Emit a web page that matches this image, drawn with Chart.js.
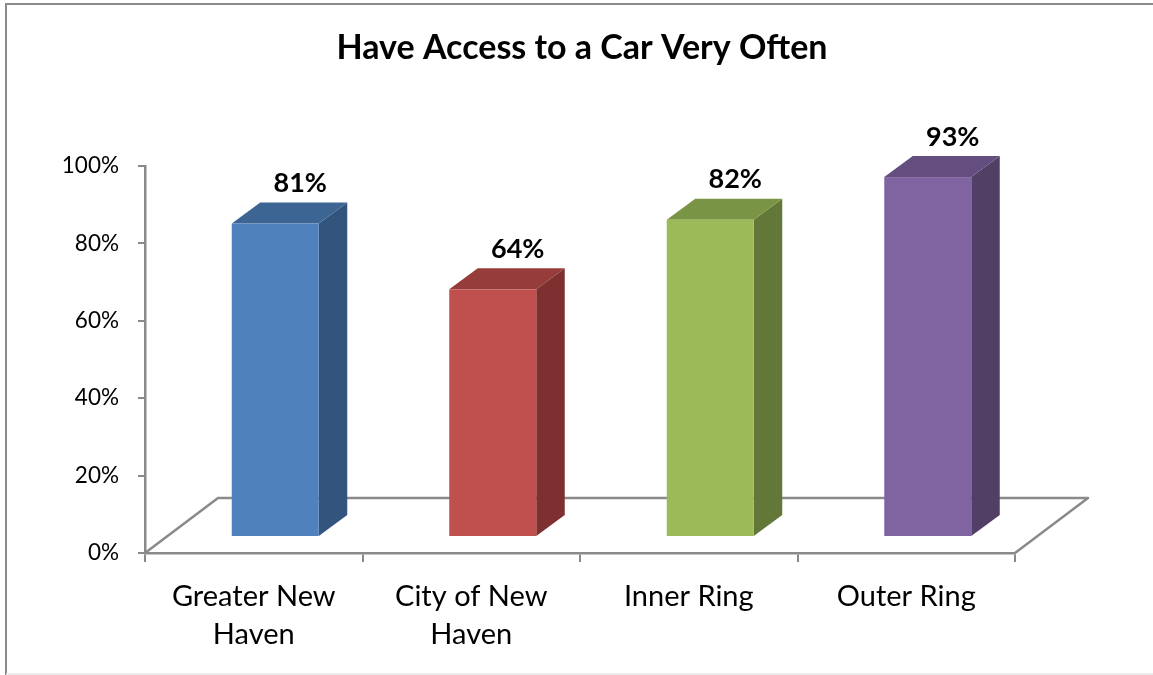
<!DOCTYPE html>
<html>
<head>
<meta charset="utf-8">
<script src="https://cdn.jsdelivr.net/npm/chart.js@4"></script>
<style>
  html, body { margin: 0; padding: 0; background: #ffffff; }
  #wrap { position: relative; width: 1153px; height: 675px; }
  canvas { display: block; }
</style>
</head>
<body>
<div id="wrap"><canvas id="chart" width="1153" height="675"></canvas></div>
<script>
// Share of respondents who have access to a car very often, by region
const categories = [["Greater New", "Haven"], ["City of New", "Haven"], "Inner Ring", "Outer Ring"];
const values = [81, 64, 82, 93];
const tickLabels = ["0%", "20%", "40%", "60%", "80%", "100%"];

// Face colours for each column: front, top, side
const frontColors = ["#4F81BD", "#C0504D", "#9BBB59", "#8064A2"];
const topColors   = ["#3D6594", "#963D3B", "#7A9446", "#644E80"];
const sideColors  = ["#33557D", "#7D302F", "#637838", "#513F66"];

const FONT = "Lato, 'Open Sans', sans-serif";
const AXIS_GRAY = "#8a8a8a";

// Oblique projection of the floor and the columns
const FLOOR_DX = 73, FLOOR_DY = 55;      // full depth of the floor
const FRONT_DX = 21.5, FRONT_DY = 16;    // column front plane offset
const BAR_DX = 28.5, BAR_DY = 21;        // column depth

const frame = {
  id: "frame",
  beforeDraw(chart) {
    const ctx = chart.ctx;
    ctx.save();
    ctx.fillStyle = "#ffffff";
    ctx.fillRect(0, 0, chart.width, chart.height);
    ctx.strokeStyle = AXIS_GRAY;
    ctx.lineWidth = 2;
    ctx.beginPath();
    ctx.moveTo(6, chart.height);
    ctx.lineTo(6, 4);
    ctx.lineTo(chart.width, 4);
    ctx.stroke();
    ctx.strokeStyle = "#e6e6e6";
    ctx.lineWidth = 1.5;
    ctx.beginPath();
    ctx.moveTo(6, 674);
    ctx.lineTo(chart.width, 674);
    ctx.stroke();
    ctx.restore();
  }
};

const floor3d = {
  id: "floor3d",
  beforeDatasetsDraw(chart) {
    const { ctx } = chart;
    const a = chart.scales.x;
    const bottom = chart.scales.y.bottom;
    ctx.save();
    ctx.strokeStyle = AXIS_GRAY;
    ctx.lineWidth = 2.5;
    ctx.lineJoin = "round";
    ctx.beginPath();
    ctx.moveTo(a.left, bottom);
    ctx.lineTo(a.left + FLOOR_DX, bottom - FLOOR_DY);
    ctx.lineTo(a.right + FLOOR_DX, bottom - FLOOR_DY);
    ctx.lineTo(a.right, bottom);
    ctx.stroke();
    ctx.restore();
  }
};

const columns3d = {
  id: "columns3d",
  afterDatasetsDraw(chart) {
    const ctx = chart.ctx;
    const meta = chart.getDatasetMeta(0);
    ctx.save();
    meta.data.forEach((bar, i) => {
      const p = bar.getProps(["x", "y", "base", "width"], true);
      const left = p.x - p.width / 2 + FRONT_DX;
      const right = p.x + p.width / 2 + FRONT_DX;
      const top = p.y - FRONT_DY;
      const bottom = p.base - FRONT_DY;

      // side face
      ctx.fillStyle = sideColors[i];
      ctx.beginPath();
      ctx.moveTo(right, top);
      ctx.lineTo(right + BAR_DX, top - BAR_DY);
      ctx.lineTo(right + BAR_DX, bottom - BAR_DY);
      ctx.lineTo(right, bottom);
      ctx.closePath();
      ctx.fill();

      // top face
      ctx.fillStyle = topColors[i];
      ctx.beginPath();
      ctx.moveTo(left, top);
      ctx.lineTo(left + BAR_DX, top - BAR_DY);
      ctx.lineTo(right + BAR_DX, top - BAR_DY);
      ctx.lineTo(right, top);
      ctx.closePath();
      ctx.fill();

      // front face
      ctx.fillStyle = frontColors[i];
      ctx.fillRect(left, top, right - left, bottom - top);

      // value label above the column
      ctx.fillStyle = "#000000";
      ctx.font = "bold 27px " + FONT;
      ctx.textAlign = "center";
      ctx.textBaseline = "middle";
      ctx.fillText(values[i] + "%", (left + right) / 2 + 25, top - BAR_DY - 19);
    });
    ctx.restore();
  }
};

new Chart(document.getElementById("chart"), {
  type: "bar",
  data: {
    labels: categories,
    datasets: [{
      data: values,
      backgroundColor: "rgba(0,0,0,0)",
      borderWidth: 0,
      categoryPercentage: 1.0,
      barPercentage: 0.4
    }]
  },
  options: {
    responsive: false,
    animation: false,
    events: [],
    layout: { padding: { left: 11, right: 0, top: 0, bottom: 0 } },
    plugins: {
      legend: { display: false },
      tooltip: { enabled: false },
      title: {
        display: true,
        text: "Have Access to a Car Very Often",
        color: "#000000",
        font: { family: FONT, size: 34, weight: "bold", lineHeight: 1.2 },
        padding: { top: 27.6, bottom: 97.6 }
      }
    },
    scales: {
      x: {
        grid: { display: true, offset: true, drawOnChartArea: false, drawTicks: true, tickLength: 9, color: AXIS_GRAY, lineWidth: 2 },
        border: { display: true, color: AXIS_GRAY, width: 2.5 },
        ticks: { color: "#000000", padding: 16.5, maxRotation: 0, autoSkip: false,
                 font: { family: FONT, size: 29, lineHeight: 1.28 } },
        afterFit(scale) { scale.height = 122; }
      },
      y: {
        min: 0,
        max: 100,
        grid: { display: true, drawOnChartArea: false, drawTicks: true, tickLength: 7, color: AXIS_GRAY, lineWidth: 2 },
        border: { display: true, color: AXIS_GRAY, width: 2.5 },
        ticks: {
          stepSize: 20,
          color: "#000000",
          padding: 19,
          font: { family: FONT, size: 22.5 },
          callback: (v) => tickLabels[Math.round(v / 20)]
        },
        afterFit(scale) { scale.width = 134; }
      },
      // empty right-hand margin axis so the title spans the whole canvas
      yRight: {
        position: "right",
        display: true,
        grid: { display: false },
        border: { display: false },
        ticks: { display: false },
        afterFit(scale) { scale.width = 138; }
      }
    }
  },
  plugins: [frame, floor3d, columns3d]
});
</script>
</body>
</html>
